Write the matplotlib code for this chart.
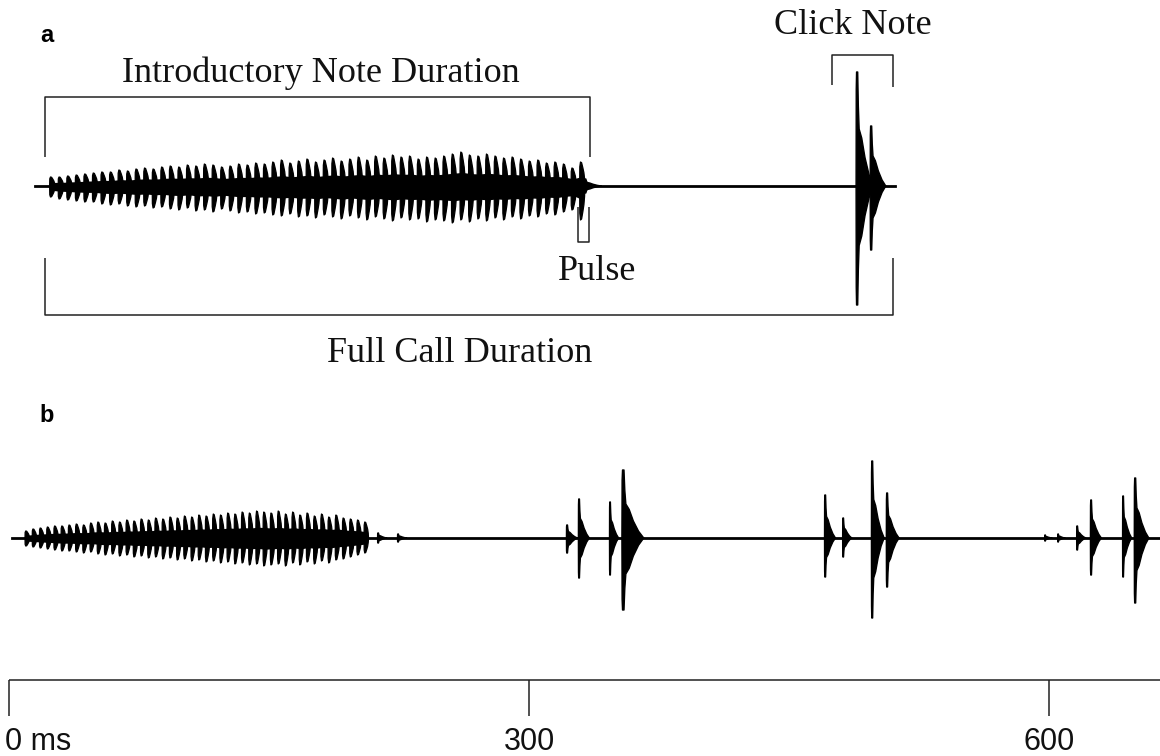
import numpy as np
import matplotlib.pyplot as plt
from matplotlib.collections import PolyCollection

# ---- panel a : one call, its own time axis (ms) ----
a_intro_start = 2.6
a_intro_end = 198.9
a_pulse_up = [9, 9, 10, 11, 12, 13, 14, 14, 16, 15,
              17, 18, 17, 19, 20, 19, 21, 20, 22, 21,
              19, 20, 22, 21, 23, 22, 24, 26, 23, 25,
              27, 24, 26, 28, 25, 27, 29, 26, 30, 28,
              31, 29, 30, 27, 29, 28, 30, 32, 34, 31,
              30, 32, 30, 28, 29, 27, 25, 26, 23, 24,
              22, 18, 24]
a_pulse_down = [11, 13, 14, 15, 16, 16, 18, 19, 18, 20,
                21, 20, 22, 21, 23, 24, 22, 25, 24, 26,
                23, 25, 27, 26, 28, 27, 29, 30, 28, 31,
                30, 32, 29, 31, 33, 30, 32, 34, 31, 33,
                35, 32, 34, 33, 36, 34, 35, 37, 34, 36,
                33, 35, 32, 34, 31, 33, 30, 31, 28, 29,
                26, 24, 34]
a_click_t = [200.0, 300.7, 305.9]
a_click_up = [7, 114, 60]
a_click_down = [7, 119, 64]
a_click_decay = [6.0, 6.0, 5.5]
a_line = (-3.7, 314.8)
a_intro_bracket = (0.0, 201.9)
a_full_bracket = (0.0, 314.1)
a_click_bracket = (291.5, 314.1)
a_pulse_bracket = (197.4, 201.5)

# ---- panel b : several calls, time in ms ----
b_intro_start = 10.4
b_intro_end = 206.0
b_pulse_up = [7, 9, 10, 11, 12, 12, 13, 14, 13, 15,
              16, 15, 17, 16, 18, 17, 19, 18, 20, 19,
              21, 20, 22, 21, 23, 22, 24, 23, 25, 24,
              26, 25, 27, 26, 25, 27, 24, 26, 23, 25,
              22, 24, 21, 23, 20, 19, 18, 16]
b_pulse_down = [8, 9, 10, 11, 12, 13, 13, 14, 15, 14,
                16, 17, 16, 18, 17, 19, 18, 20, 19, 21,
                20, 22, 21, 23, 22, 24, 23, 25, 24, 26,
                25, 27, 26, 28, 27, 26, 28, 25, 27, 24,
                26, 23, 25, 22, 21, 19, 17, 15]
b_click_t = [212.9, 224.4, 321.9, 328.8, 346.7, 354.2, 470.8, 481.2,
             497.9, 506.5, 597.7, 605.2, 616.2, 624.2, 642.7, 649.6]
b_click_up = [5, 4, 13, 39, 36, 68, 43, 20, 77, 45, 3, 4, 12, 38, 42, 60]
b_click_down = [5, 4, 15, 40, 37, 72, 39, 19, 80, 49, 3, 4, 12, 37, 39, 65]
b_click_decay = [5, 5, 6, 6, 5, 12, 6, 5, 7, 7, 4, 4, 5, 6, 5, 8]
b_line = (1.5, 664.0)
scale_ticks = [0, 300, 600]
scale_labels = ['0 ms', '300', '600']

TOOTH = [(-0.28, 0), (-0.26, 0.8), (-0.18, 1.0), (-0.05, 0.97),
         (0.1, 0.75), (0.22, 0.55), (0.3, 0.3), (0.34, 0)]
CLICK = [(-0.05, 0), (-0.04, 0.85), (-0.02, 1.0), (0.05, 1.0), (0.09, 0.7),
         (0.14, 0.5), (0.3, 0.42), (0.5, 0.25), (0.75, 0.1), (1.0, 0)]


def draw_pulses(ax, t0, t1, up, down):
    up = np.asarray(up, float)
    down = np.asarray(down, float)
    t = np.linspace(t0, t1, len(up))
    p = t[1] - t[0]
    polys = []
    for ti, u, d in zip(t, up, down):
        polys.append([(ti + sx * p, sy * u) for sx, sy in TOOTH])
        polys.append([(ti + sx * p, -sy * d) for sx, sy in TOOTH])
    ax.add_collection(PolyCollection(polys, facecolors='black',
                                     edgecolors='black', linewidths=0.9))
    ax.fill_between(t, -0.4 * down, 0.4 * up, color='black', lw=0)


def draw_clicks(ax, times, up, down, decay):
    polys = []
    for ti, u, d, w in zip(times, up, down, decay):
        polys.append([(ti + sx * w, sy * u) for sx, sy in CLICK])
        polys.append([(ti + sx * w, -sy * d) for sx, sy in CLICK])
    ax.add_collection(PolyCollection(polys, facecolors='black',
                                     edgecolors='black', linewidths=1.0))


fig = plt.figure(figsize=(11.6, 7.56), dpi=100)
serif = dict(family='Liberation Serif', fontsize=26, color='#111111')
bk = dict(color='#222222', lw=1.1, solid_capstyle='butt')

# panel a axes (whole figure, px-like amplitude units)
ax_a = fig.add_axes([0, 0, 1, 1])
ax_a.set_xlim(-45 / 2.7, (1160 - 45) / 2.7)
ax_a.set_ylim(-570, 186)
ax_a.axis('off')

ax_a.plot(a_line, [0, 0], color='black', lw=2.0)
draw_pulses(ax_a, a_intro_start, a_intro_end, a_pulse_up, a_pulse_down)
draw_clicks(ax_a, a_click_t, a_click_up, a_click_down, a_click_decay)

x0, x1 = a_intro_bracket
ax_a.plot([x0, x0, x1, x1], [29, 89, 89, 29], **bk)
x0, x1 = a_full_bracket
ax_a.plot([x0, x0, x1, x1], [-72, -129, -129, -72], **bk)
x0, x1 = a_click_bracket
ax_a.plot([x0, x0, x1, x1], [101, 131, 131, 99], **bk)
x0, x1 = a_pulse_bracket
ax_a.plot([x0, x0, x1, x1], [-21, -56, -56, -21], **bk)

ax_a.text(102.2, 113, 'Introductory Note Duration', ha='center', va='center', **serif)
ax_a.text(299.3, 161, 'Click Note', ha='center', va='center', **serif)
ax_a.text(204.4, -85, 'Pulse', ha='center', va='center', **serif)
ax_a.text(153.7, -167, 'Full Call Duration', ha='center', va='center', **serif)
ax_a.text(0.7, 151, 'a', ha='center', va='center', fontsize=17,
          fontweight='bold', family='Liberation Sans')

# panel b axes
s = 520 / 300
ax_b = fig.add_axes([0, 0, 1, 1])
ax_b.set_xlim(-9 / s, (1160 - 9) / s)
ax_b.set_ylim(-218, 538)
ax_b.axis('off')
ax_b.patch.set_alpha(0)

ax_b.plot(b_line, [0, 0], color='black', lw=2.0)
draw_pulses(ax_b, b_intro_start, b_intro_end, b_pulse_up, b_pulse_down)
draw_clicks(ax_b, b_click_t, b_click_up, b_click_down, b_click_decay)
ax_b.text(21.9, 123, 'b', ha='center', va='center', fontsize=17,
          fontweight='bold', family='Liberation Sans')

# scale bar
ax_b.plot([0, 664], [-142, -142], **bk)
for t, lab in zip(scale_ticks, scale_labels):
    ax_b.plot([t, t], [-142, -178], **bk)
    ax_b.text(t - 2.3 if t == 0 else t, -204, lab,
              ha='left' if t == 0 else 'center', va='center', fontsize=22,
              family='Liberation Sans', color='#111111')

fig.savefig('out.png', dpi=100)
